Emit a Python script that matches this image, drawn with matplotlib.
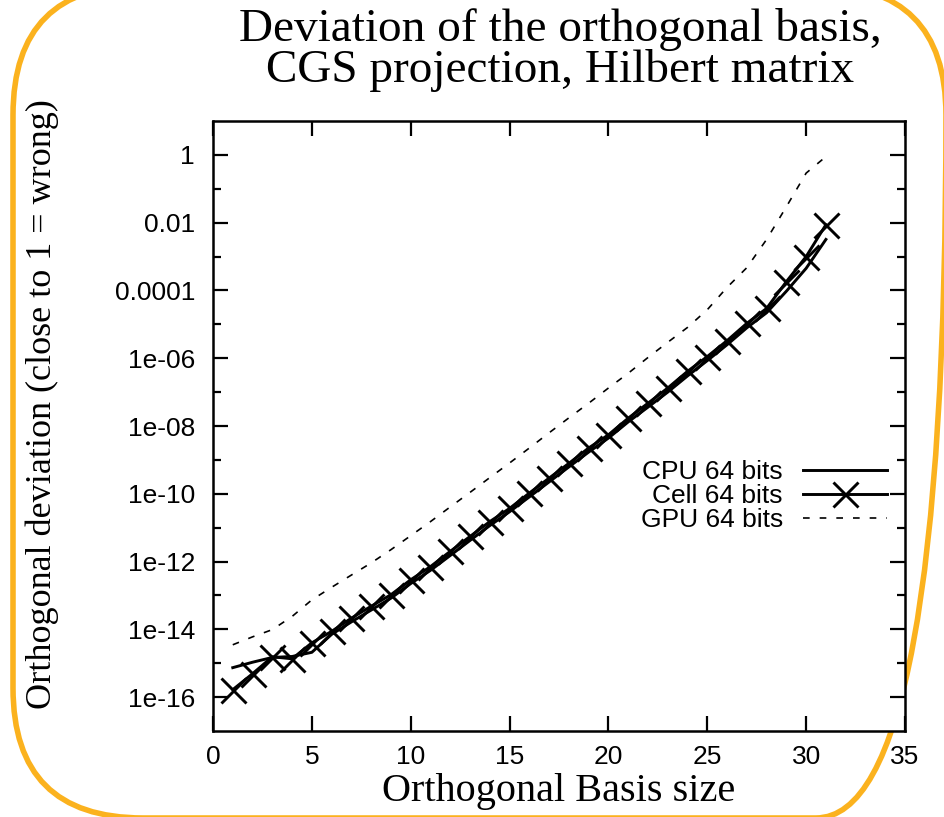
import matplotlib
matplotlib.use("Agg")
import matplotlib.pyplot as plt
from matplotlib.patches import FancyBboxPatch
from matplotlib.ticker import FixedLocator, FixedFormatter, NullFormatter

plt.rcParams['font.family'] = ['Liberation Sans', 'DejaVu Sans']

# data
basis_size = list(range(1, 32))
cpu_dev = [7.4e-16, 1.07e-15, 1.48e-15, 1.58e-15, 2.1e-15, 7.1e-15, 1.66e-14, 3.7e-14,
           8.3e-14, 2.24e-13, 5.5e-13, 1.51e-12, 4.2e-12, 1.15e-11, 2.95e-11, 8.1e-11,
           2.24e-10, 6.2e-10, 1.7e-9, 4.4e-9, 1.32e-8, 3.6e-8, 1.0e-7, 3.0e-7, 8.5e-7,
           2.5e-6, 7.9e-6, 2.2e-5, 9.5e-5, 4.5e-4, 3.2e-3]
cell_dev = [1.66e-16, 4.9e-16, 1.55e-15, 1.35e-15, 4.0e-15, 8.7e-15, 2.14e-14, 4.8e-14,
            1.05e-13, 2.9e-13, 7.1e-13, 2.0e-12, 5.5e-12, 1.51e-11, 3.7e-11, 1.05e-10,
            2.9e-10, 7.9e-10, 2.24e-9, 5.5e-9, 1.7e-8, 4.7e-8, 1.32e-7, 4.1e-7, 1.12e-6,
            3.3e-6, 1.07e-5, 2.95e-5, 1.82e-4, 1.0e-3, 8.7e-3]
gpu_dev = [3.5e-15, 6.0e-15, 9.8e-15, 2.4e-14, 7.4e-14, 1.74e-13, 4.0e-13, 9.1e-13,
           2.24e-12, 5.8e-12, 1.51e-11, 4.1e-11, 1.1e-10, 3.0e-10, 8.1e-10, 2.24e-9,
           6.3e-9, 1.74e-8, 4.7e-8, 1.32e-7, 3.6e-7, 1.05e-6, 2.95e-6, 8.1e-6, 2.7e-5,
           1.23e-4, 4.7e-4, 3.2e-3, 2.95e-2, 0.29, 0.89]

x_ticks = [0, 5, 10, 15, 20, 25, 30, 35]
y_ticks = [1, 1e-2, 1e-4, 1e-6, 1e-8, 1e-10, 1e-12, 1e-14, 1e-16]
y_labels = ["1", "0.01", "0.0001", "1e-06", "1e-08", "1e-10", "1e-12", "1e-14", "1e-16"]
y_minor = [1e-1, 1e-3, 1e-5, 1e-7, 1e-9, 1e-11, 1e-13, 1e-15]

W, H = 944, 817
fig = plt.figure(figsize=(W / 100, H / 100), dpi=100)

# orange rounded frame
bg = fig.add_axes([0, 0, 1, 1], zorder=0)
bg.set_xlim(0, W)
bg.set_ylim(H, 0)
bg.axis('off')
bg.add_patch(FancyBboxPatch((13, -15), 933, 833,
                            boxstyle='round,pad=0,rounding_size=130',
                            fill=False, ec='#FBB21E', lw=4))

ax = fig.add_axes([213 / W, 1 - 731 / H, 692 / W, 610 / H], zorder=1)
ax.set_yscale('log')

ax.plot(basis_size, cpu_dev, color='black', lw=2.1, label='CPU 64 bits')
ax.plot(basis_size, cell_dev, color='black', lw=2.1, marker='x', ms=18, mew=2.1,
        label='Cell 64 bits')
ax.plot(basis_size, gpu_dev, color='black', lw=1.2, dashes=(4, 6), label='GPU 64 bits')

ax.set_xlim(0, 35)
ax.set_ylim(1e-17, 10)
ax.xaxis.set_major_locator(FixedLocator(x_ticks))
ax.yaxis.set_major_locator(FixedLocator(y_ticks))
ax.yaxis.set_major_formatter(FixedFormatter(y_labels))
ax.yaxis.set_minor_locator(FixedLocator(y_minor))
ax.yaxis.set_minor_formatter(NullFormatter())
ax.xaxis.set_minor_locator(FixedLocator([]))

ax.tick_params(which='both', direction='in', top=True, right=True, width=1.6)
ax.tick_params(which='major', length=11, labelsize=19)
ax.tick_params(which='minor', length=6)
ax.tick_params(axis='y', which='major', pad=13)
ax.tick_params(axis='x', which='major', pad=10)
for s in ax.spines.values():
    s.set_linewidth(1.8)

leg = ax.legend(loc='center right', bbox_to_anchor=((887 - 213) / 692, (731 - 496) / 610),
                frameon=False, fontsize=19, markerfirst=False, numpoints=1,
                handlelength=3.2, handletextpad=0.75, labelspacing=0.0,
                borderpad=0, borderaxespad=0)

serif = ['Liberation Serif', 'DejaVu Serif']
fig.text(560 / W, 1 - 8 / H, "Deviation of the orthogonal basis,\nCGS projection, Hilbert matrix",
         ha='center', va='top', fontsize=34, family=serif, linespacing=0.93)
fig.text(559 / W, 1 - 792 / H, "Orthogonal Basis size", ha='center', va='center',
         fontsize=29, family=serif)
fig.text(42 / W, 1 - 404 / H, "Orthogonal deviation (close to 1 = wrong)", ha='center',
         va='center', rotation=90, fontsize=26, family=serif)

fig.savefig("out.png", dpi=100)
